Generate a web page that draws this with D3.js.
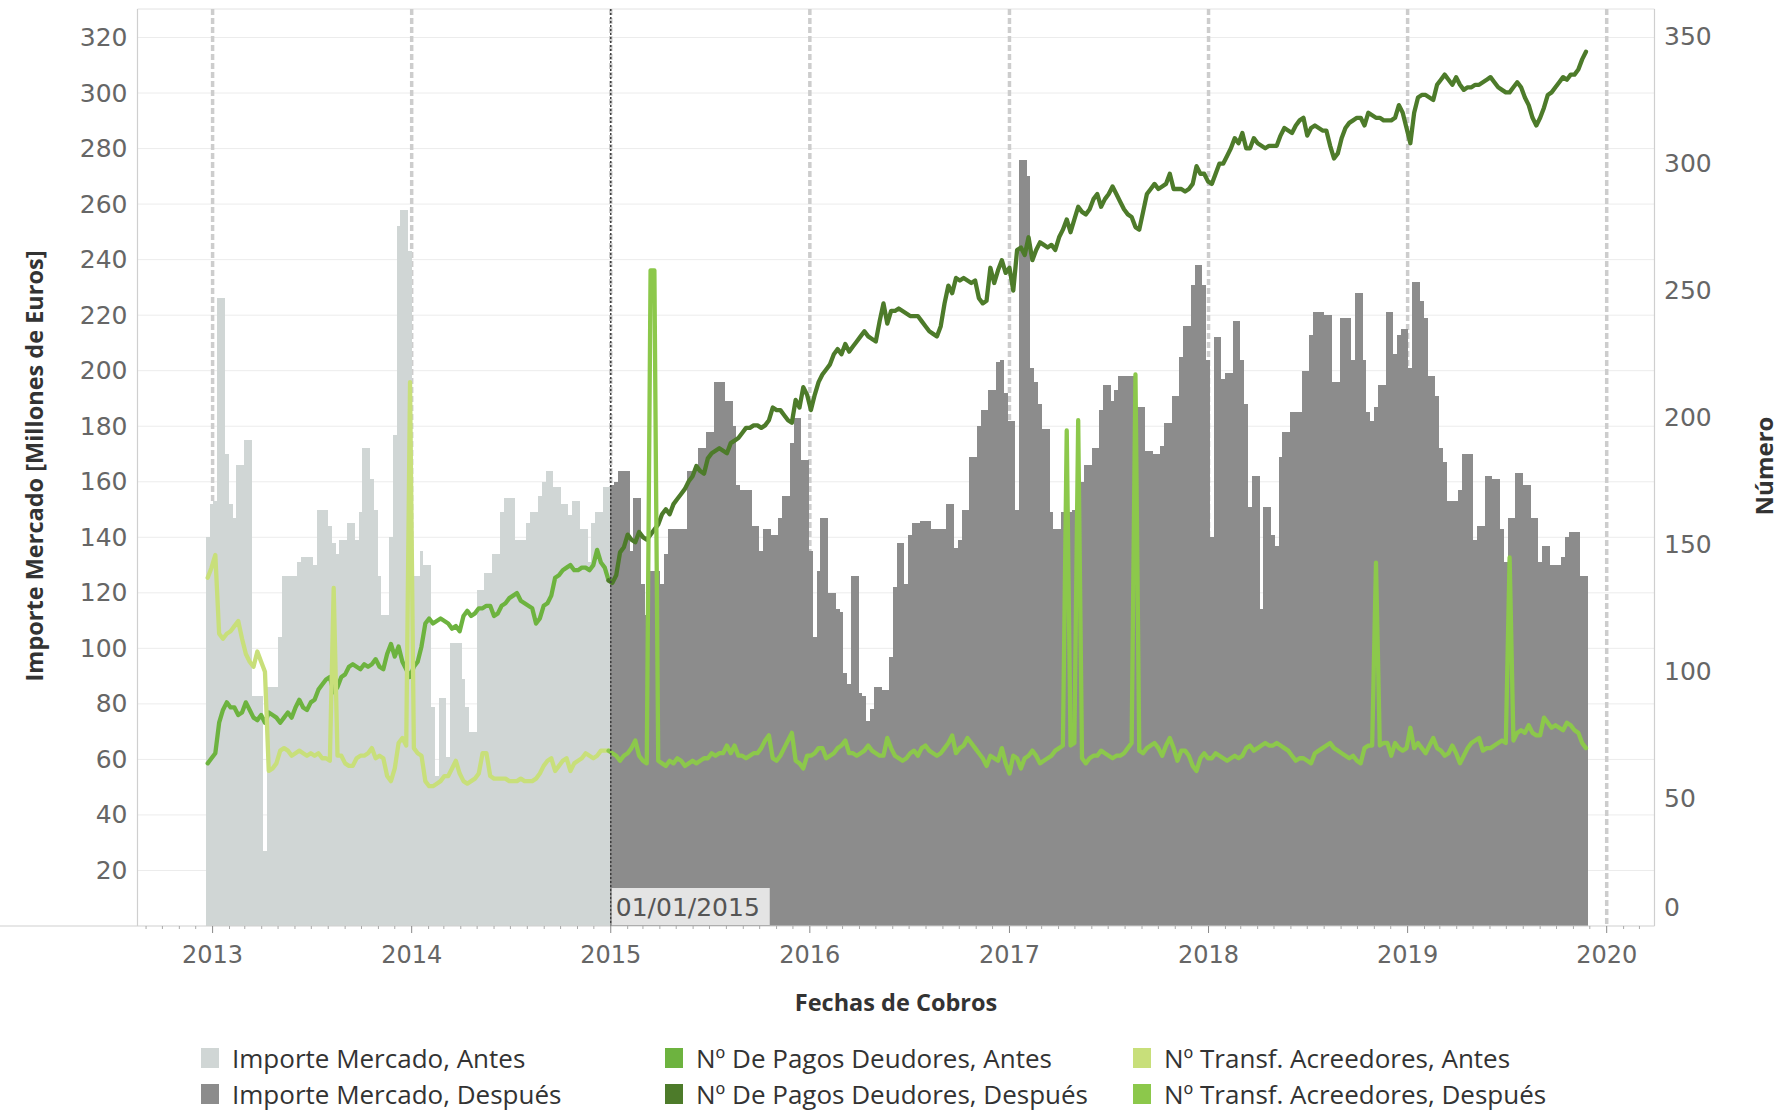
<!DOCTYPE html>
<html>
<head>
<meta charset="utf-8">
<script src="https://cdn.jsdelivr.net/npm/d3@7"></script>
<style>
  html, body { margin: 0; padding: 0; background: #fff; }
  svg { display: block; }
</style>
</head>
<body>
<svg id="chart" width="1783" height="1111"></svg>
<script>
// Weekly series, one value per week starting on the Sunday below.
const firstWeek = [2012, 11, 23];          // UTC year, month index, day
const splitDate = [2015, 0, 1];            // Antes / Después boundary

// Importe Mercado (millones de euros), weekly
const importe = [
  140,152,153,226,226,170,152,147,166,166,
  175,175,83,83,83,27,86,86,86,104,
  126,126,126,126,131,133,133,133,130,150,
  150,150,144,138,134,139,139,145,145,139,
  149,172,172,161,150,126,112,112,140,177,
  252,258,258,243,126,126,135,130,130,79,
  54,82,82,61,102,102,102,89,79,70,
  70,121,121,127,127,134,134,149,154,154,
  154,139,139,139,145,149,149,155,160,164,
  164,158,158,152,152,148,153,153,143,143,
  131,145,149,149,158,158,159,160,164,164,
  164,135,154,154,123,112,128,128,128,123,
  134,143,143,143,143,143,164,164,164,172,
  172,178,178,196,196,196,189,189,180,159,
  157,157,157,144,144,135,143,143,141,141,
  147,155,155,174,183,183,168,168,135,104,
  128,147,147,120,120,114,113,91,87,126,
  126,84,83,74,78,86,86,85,85,97,
  122,138,138,123,141,145,145,146,146,146,
  143,143,143,143,152,152,136,139,150,150,
  169,169,180,186,186,193,193,203,204,192,
  182,182,150,276,276,270,201,196,188,179,
  179,149,143,143,149,149,149,150,150,160,
  166,166,172,172,186,195,195,189,193,198,
  198,198,198,198,187,187,171,171,170,170,
  173,181,181,191,191,205,216,216,231,238,
  238,231,204,140,212,212,197,199,199,218,
  218,204,188,151,162,162,114,151,151,141,
  137,169,178,178,185,185,185,200,200,213,
  221,221,221,220,220,196,196,219,219,219,
  204,228,228,204,185,182,187,195,195,221,
  221,206,213,215,215,201,232,232,225,219,
  198,198,191,172,167,153,153,153,157,170,
  170,170,139,144,144,162,162,161,161,143,
  131,147,147,163,163,159,159,147,147,131,
  137,137,130,130,130,133,140,142,142,142,
  126,126
];

// Nº De Pagos Deudores, weekly
const pagos = [
  64,66,68,80,85,88,86,86,83,84,
  88,85,82,81,83,80,84,83,82,80,
  82,84,82,86,89,86,85,88,89,93,
  95,97,98,92,94,98,99,102,103,102,
  101,103,102,103,105,102,101,107,111,106,
  110,104,101,98,102,104,110,119,121,119,
  120,121,120,119,117,118,116,122,124,122,
  123,125,125,126,126,122,123,126,127,129,
  130,131,128,127,126,125,119,121,126,127,
  130,137,138,140,141,142,140,140,141,141,
  140,142,148,143,141,136,135,138,147,149,
  154,152,151,155,153,152,154,156,158,162,
  164,162,166,168,170,172,175,177,181,179,
  178,184,186,187,188,187,186,190,191,192,
  194,196,196,197,197,196,197,199,204,203,
  203,201,199,198,207,204,212,209,203,209,
  214,217,219,221,225,227,225,229,226,228,
  230,232,234,232,231,230,238,245,237,242,
  242,243,242,241,240,240,240,238,236,234,
  233,232,236,245,252,249,255,254,255,254,
  253,254,247,245,246,259,253,258,262,257,
  259,250,266,267,264,271,262,266,269,268,
  267,268,266,271,274,278,273,278,283,281,
  280,282,286,288,283,286,288,291,288,285,
  282,280,279,275,274,281,288,290,292,290,
  291,292,296,290,290,290,289,290,292,299,
  296,296,293,292,296,300,300,303,306,310,
  308,312,306,306,310,308,307,306,307,307,
  307,311,314,313,312,315,317,318,311,314,
  315,314,313,313,307,302,304,310,314,316,
  317,318,318,315,320,319,318,318,317,317,
  317,318,323,320,314,308,320,326,327,327,
  326,325,331,333,335,333,331,334,331,329,
  330,330,331,331,332,333,334,332,330,329,
  328,328,330,332,330,326,323,318,315,318,
  322,327,328,330,332,334,333,335,335,337,
  341,344
];

// Nº Transf. Acreedores, weekly
const transf = [
  137,141,146,115,113,115,116,118,120,113,
  107,104,102,108,104,100,61,62,64,69,
  70,69,67,68,69,68,67,68,67,68,
  66,66,65,133,67,67,64,63,63,66,
  67,67,68,70,66,67,66,59,57,62,
  72,74,71,214,70,68,67,57,55,55,
  56,57,59,59,62,65,60,57,56,57,
  58,60,68,68,59,58,58,58,58,57,
  57,57,58,57,57,57,58,60,63,65,
  66,61,63,65,66,61,64,65,66,68,
  67,66,67,69,69,69,68,67,65,67,
  68,70,73,67,65,64,258,258,65,64,
  63,65,64,66,65,63,64,65,64,65,
  66,66,68,67,68,68,71,68,71,67,
  67,66,67,68,68,70,73,75,66,65,
  67,70,73,76,65,64,62,67,67,68,
  70,70,66,67,68,70,71,73,68,68,
  67,68,69,71,69,68,67,67,74,70,
  67,66,65,66,68,69,67,70,71,69,
  68,67,68,70,72,75,68,70,71,74,
  72,70,68,66,63,67,66,65,70,64,
  60,67,66,62,66,67,69,67,64,65,
  66,67,69,70,71,195,71,72,199,66,
  64,66,67,67,69,68,67,66,67,67,
  68,70,72,217,69,68,70,71,72,70,
  67,71,74,70,65,69,69,67,63,61,
  66,68,66,66,68,67,66,65,66,67,
  66,67,70,71,69,70,71,72,71,71,
  72,71,70,69,67,65,66,66,65,64,
  68,69,70,71,72,70,69,68,67,66,
  67,65,64,70,71,71,143,71,72,72,
  67,72,70,69,70,78,70,72,70,68,
  71,74,70,69,67,68,71,68,64,67,
  70,72,73,74,69,70,70,71,72,73,
  72,145,73,76,77,76,79,76,75,75,
  82,80,78,79,78,77,80,79,77,76,
  72,70
];

const yearTicks  = [2013, 2014, 2015, 2016, 2017, 2018, 2019, 2020];
const leftTicks  = [20, 40, 60, 80, 100, 120, 140, 160, 180, 200, 220, 240, 260, 280, 300, 320];
const rightTicks = [0, 50, 100, 150, 200, 250, 300, 350];

const legendRows = [
  ["Importe Mercado, Antes",   "Nº De Pagos Deudores, Antes",   "Nº Transf. Acreedores, Antes"],
  ["Importe Mercado, Después", "Nº De Pagos Deudores, Después", "Nº Transf. Acreedores, Después"]
];
const refLabel = "01/01/2015";
const xTitle = "Fechas de Cobros";
const yLeftTitle = "Importe Mercado [Millones de Euros]";
const yRightTitle = "Número";

// ---- styling ----
const C = {
  barAntes: "#d0d6d5",
  barDespues: "#8c8c8c",
  pagosAntes: "#6db33f",
  pagosDespues: "#4d7b2a",
  transfAntes: "#c8df7a",
  transfDespues: "#8cc84b",
  grid: "#ececec",
  axis: "#cfcfcf",
  yearLine: "#cdcdcd",
  tick: "#666",
  title: "#333"
};
const tickFont = "'DejaVu Sans', sans-serif";
const textFont = "'Open Sans', sans-serif";

const DAY = 86400000;
const t0 = Date.UTC(firstWeek[0], firstWeek[1], firstWeek[2]);
const tSplit = Date.UTC(splitDate[0], splitDate[1], splitDate[2]);
const weeks = importe.map((_, i) => new Date(t0 + i * 7 * DAY));

// ---- geometry ----
const plotL = 137.5, plotR = 1654.5, plotT = 9, base = 926;

const x = d3.scaleUtc()
  .domain([new Date(Date.UTC(2013, 0, 1)), new Date(Date.UTC(2020, 0, 1))])
  .range([212.6, 1606.7]);
const yL = d3.scaleLinear().domain([0, 320]).range([base, 37.5]);
const yR = d3.scaleLinear().domain([0, 350]).range([base, 36.5]);

const svg = d3.select("#chart");

// horizontal gridlines (left axis)
svg.append("g").selectAll("line").data(leftTicks).join("line")
  .attr("x1", plotL).attr("x2", plotR)
  .attr("y1", d => yL(d)).attr("y2", d => yL(d))
  .attr("stroke", C.grid).attr("stroke-width", 1);

// frame: top, left and right axis lines
svg.append("line").attr("x1", plotL).attr("x2", plotR).attr("y1", plotT).attr("y2", plotT)
  .attr("stroke", "#e2e2e2").attr("stroke-width", 1);
svg.append("line").attr("x1", plotL).attr("x2", plotL).attr("y1", plotT).attr("y2", base)
  .attr("stroke", C.axis).attr("stroke-width", 1.2);
svg.append("line").attr("x1", plotR).attr("x2", plotR).attr("y1", plotT).attr("y2", base)
  .attr("stroke", C.axis).attr("stroke-width", 1.2);

// yearly dashed reference lines
svg.append("g").selectAll("line").data(yearTicks).join("line")
  .attr("x1", d => x(new Date(Date.UTC(d, 0, 1)))).attr("x2", d => x(new Date(Date.UTC(d, 0, 1))))
  .attr("y1", plotT).attr("y2", base)
  .attr("stroke", C.yearLine).attr("stroke-width", 3.5)
  .attr("stroke-dasharray", "6,3");

// weekly bars, centred on the week date; edges snapped so neighbours share them
const half = 3.5 * DAY;
const edge = t => Math.round(x(new Date(t)));
svg.append("g").attr("shape-rendering", "crispEdges")
  .selectAll("rect").data(importe).join("rect")
  .attr("x", (d, i) => edge(+weeks[i] - half))
  .attr("width", (d, i) => edge(+weeks[i] + half) - edge(+weeks[i] - half))
  .attr("y", d => yL(d))
  .attr("height", d => base - yL(d))
  .attr("fill", (d, i) => (+weeks[i] < tSplit ? C.barAntes : C.barDespues));

// lines on the right axis
const lastAntes = d3.max(weeks.map((w, i) => (+w < tSplit ? i : -1)));
function segment(values, from, to) {
  const pts = [];
  for (let i = from; i <= to; i++) pts.push({ date: weeks[i], v: values[i] });
  return pts;
}
const line = d3.line().x(d => x(d.date)).y(d => yR(d.v));
const n = importe.length - 1;
const series = [
  { values: pagos,  from: 0,         to: lastAntes, color: C.pagosAntes },
  { values: pagos,  from: lastAntes, to: n,         color: C.pagosDespues },
  { values: transf, from: 0,         to: lastAntes, color: C.transfAntes },
  { values: transf, from: lastAntes, to: n,         color: C.transfDespues }
];
svg.append("g").selectAll("path").data(series).join("path")
  .attr("d", s => line(segment(s.values, s.from, s.to)))
  .attr("fill", "none")
  .attr("stroke", s => s.color)
  .attr("stroke-width", 4.3)
  .attr("stroke-linejoin", "round")
  .attr("stroke-linecap", "round");

// 01/01/2015 reference line and label
const xRef = x(new Date(tSplit));
svg.append("line").attr("x1", xRef).attr("x2", xRef).attr("y1", plotT).attr("y2", base)
  .attr("stroke", "#3d3d3d").attr("stroke-width", 1.5).attr("stroke-dasharray", "2,2");
svg.append("rect").attr("x", xRef + 1).attr("y", 888).attr("width", 158).attr("height", 37)
  .attr("fill", "#e4e4e4");
svg.append("text").attr("x", xRef + 5).attr("y", 907)
  .attr("dominant-baseline", "central")
  .attr("font-family", tickFont).attr("font-size", 25).attr("fill", "#555")
  .text(refLabel);

// x axis line and ticks
svg.append("line").attr("x1", 0).attr("x2", plotR).attr("y1", base).attr("y2", base)
  .attr("stroke", C.axis).attr("stroke-width", 1.2);
const months = d3.utcMonth.range(x.invert(plotL), x.invert(plotR));
svg.append("g").selectAll("line").data(months).join("line")
  .attr("x1", d => x(d)).attr("x2", d => x(d))
  .attr("y1", base).attr("y2", d => (d.getUTCMonth() === 0 ? base + 7 : base + 3))
  .attr("stroke", d => (d.getUTCMonth() === 0 ? "#888" : "#aaa"))
  .attr("stroke-width", 1);

svg.append("g").selectAll("text").data(yearTicks).join("text")
  .attr("x", d => x(new Date(Date.UTC(d, 0, 1))))
  .attr("y", 955)
  .attr("text-anchor", "middle").attr("dominant-baseline", "central")
  .attr("font-family", tickFont).attr("font-size", 24).attr("fill", C.tick)
  .text(d => d);

// left axis labels
svg.append("g").selectAll("text").data(leftTicks).join("text")
  .attr("x", 127.5).attr("y", d => yL(d))
  .attr("text-anchor", "end").attr("dominant-baseline", "central")
  .attr("font-family", tickFont).attr("font-size", 25).attr("fill", C.tick)
  .text(d => d);

// right axis labels (the zero label sits just above the baseline)
svg.append("g").selectAll("text").data(rightTicks).join("text")
  .attr("x", 1664).attr("y", d => (d === 0 ? base - 19 : yR(d)))
  .attr("text-anchor", "start").attr("dominant-baseline", "central")
  .attr("font-family", tickFont).attr("font-size", 25).attr("fill", C.tick)
  .text(d => d);

// axis titles
svg.append("text").attr("x", 896).attr("y", 1002)
  .attr("text-anchor", "middle").attr("dominant-baseline", "central")
  .attr("font-family", textFont).attr("font-weight", 700).attr("font-size", 23.5)
  .attr("fill", C.title).text(xTitle);
svg.append("text").attr("transform", "translate(34,466) rotate(-90)")
  .attr("text-anchor", "middle").attr("dominant-baseline", "central")
  .attr("font-family", textFont).attr("font-weight", 700).attr("font-size", 23.5)
  .attr("fill", C.title).text(yLeftTitle);
svg.append("text").attr("transform", "translate(1763,466) rotate(-90)")
  .attr("text-anchor", "middle").attr("dominant-baseline", "central")
  .attr("font-family", textFont).attr("font-weight", 700).attr("font-size", 24)
  .attr("fill", C.title).text(yRightTitle);

// legend
const legendColors = [
  [C.barAntes, C.pagosAntes, C.transfAntes],
  [C.barDespues, C.pagosDespues, C.transfDespues]
];
const colX = [201, 665, 1133];
const rowY = [1058, 1094];
const lg = svg.append("g");
legendRows.forEach((row, r) => {
  row.forEach((label, c) => {
    lg.append("rect").attr("x", colX[c]).attr("y", rowY[r] - 10)
      .attr("width", 18).attr("height", 20).attr("fill", legendColors[r][c]);
    lg.append("text").attr("x", colX[c] + 31).attr("y", rowY[r])
      .attr("dominant-baseline", "central")
      .attr("font-family", textFont).attr("font-size", 26).attr("fill", "#333")
      .attr("textLength", null)
      .text(label);
  });
});
</script>
</body>
</html>
